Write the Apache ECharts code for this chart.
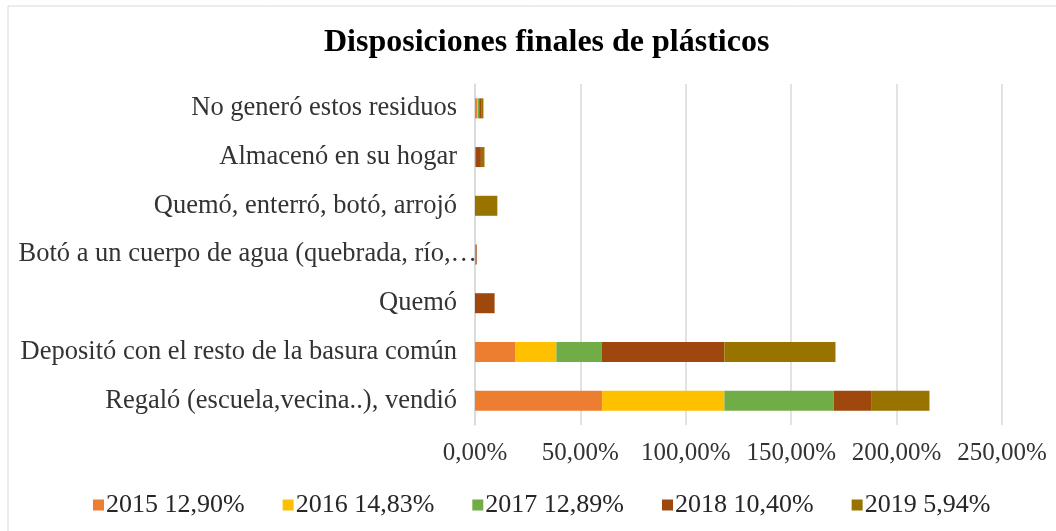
<!DOCTYPE html>
<html>
<head>
<meta charset="utf-8">
<script src="https://cdn.jsdelivr.net/npm/echarts@6/dist/echarts.min.js"></script>
<style>
html,body{margin:0;padding:0;background:#fff;}
#chart{width:1056px;height:531px;}
</style>
</head>
<body>
<div id="chart"></div>
<script>
const categories = [
  'Regaló (escuela,vecina..), vendió',
  'Depositó con el resto de la basura común',
  'Quemó',
  'Botó a un cuerpo de agua (quebrada, río,…',
  'Quemó, enterró, botó, arrojó',
  'Almacenó en su hogar',
  'No generó estos residuos'
];
const seriesNames = ['2015 12,90%', '2016 14,83%', '2017 12,89%', '2018 10,40%', '2019 5,94%'];
const v2015 = [60.3, 19.0, 0, 0.4, 0, 0.3, 1.0];
const v2016 = [58.0, 19.6, 0, 0, 0, 0, 0.3];
const v2017 = [51.9, 21.6, 0, 0, 0, 0, 0.7];
const v2018 = [17.7, 58.1, 9.3, 0.4, 0, 2.5, 1.2];
const v2019 = [27.7, 52.7, 0, 0, 10.6, 1.7, 0.8];
const xTickLabels = ['0,00%', '50,00%', '100,00%', '150,00%', '200,00%', '250,00%'];
const colors = ['#ED7D31', '#FFC000', '#70AD47', '#9E480E', '#997300'];
const allValues = [v2015, v2016, v2017, v2018, v2019];

const font = 'Liberation Serif, Times New Roman, serif';
const categoryData = categories.map(c => c.endsWith('…')
  ? {value: c, textStyle: {padding: [0, -20, 0, 0]}}
  : c);

const chart = echarts.init(document.getElementById('chart'));
chart.setOption({
  animation: false,
  backgroundColor: '#fff',
  title: {
    text: 'Disposiciones finales de plásticos',
    left: 319,
    top: 22,
    textStyle: {fontFamily: font, fontSize: 32, fontWeight: 'bold', color: '#000'}
  },
  legend: {
    top: 487,
    left: 88,
    itemWidth: 11,
    itemHeight: 11,
    itemGap: 38,
    icon: 'rect',
    textStyle: {fontFamily: font, fontSize: 26, color: '#262626', padding: [0, 0, 0, -3]},
    data: seriesNames
  },
  grid: {left: 475, right: 54, top: 84, bottom: 106, containLabel: false, outerBoundsMode: 'none'},
  xAxis: {
    type: 'value',
    min: 0, max: 250, interval: 50,
    axisLine: {show: false},
    axisTick: {show: false},
    splitLine: {lineStyle: {color: '#D9D9D9', width: 1.5}},
    axisLabel: {
      fontFamily: font, fontSize: 25, color: '#333', margin: 16,
      formatter: v => xTickLabels[Math.round(v / 50)]
    }
  },
  yAxis: {
    type: 'category',
    data: categoryData,
    axisLine: {show: true, lineStyle: {color: '#D9D9D9', width: 1.5}},
    axisTick: {show: false},
    axisLabel: {fontFamily: font, fontSize: 26.5, color: '#333', margin: 18}
  },
  graphic: [{
    type: 'rect', shape: {x: 8, y: 6, width: 1060, height: 540},
    style: {fill: 'none', stroke: '#D9D9D9', lineWidth: 1}, silent: true, z: -1
  }],
  series: seriesNames.map((name, i) => ({
    name: name,
    type: 'bar',
    stack: 'total',
    barWidth: 20,
    itemStyle: {color: colors[i]},
    data: allValues[i]
  }))
});
</script>
</body>
</html>
